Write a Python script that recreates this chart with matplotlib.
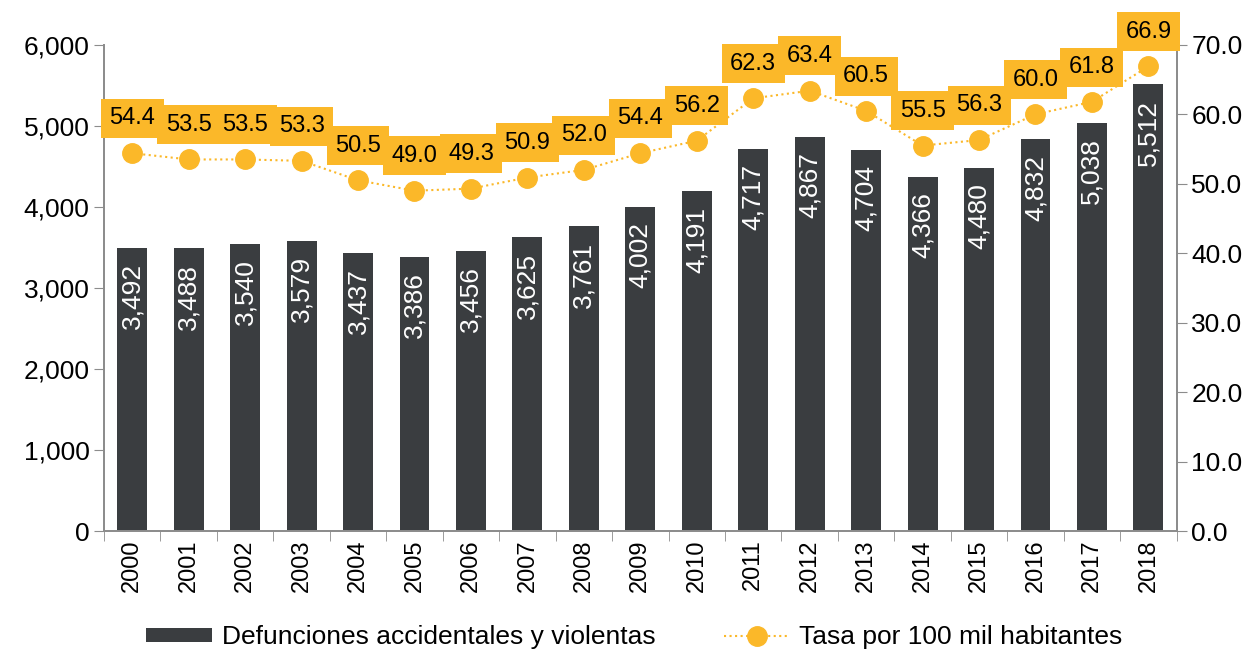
import matplotlib.pyplot as plt
from matplotlib.ticker import FuncFormatter

years = [str(y) for y in range(2000, 2019)]
deaths = [3492, 3488, 3540, 3579, 3437, 3386, 3456, 3625, 3761, 4002,
          4191, 4717, 4867, 4704, 4366, 4480, 4832, 5038, 5512]
rate = [54.4, 53.5, 53.5, 53.3, 50.5, 49.0, 49.3, 50.9, 52.0, 54.4,
        56.2, 62.3, 63.4, 60.5, 55.5, 56.3, 60.0, 61.8, 66.9]

BAR = "#3a3d40"
ORANGE = "#fbb829"
GRAY = "#8c8c8c"
FS = 17
BIG = 19


def main():
    plt.rcParams["font.family"] = ["Liberation Sans", "DejaVu Sans"]
    fig = plt.figure(figsize=(12.56, 6.5), dpi=100)
    ax = fig.add_axes([0.0828, 0.183, 0.854, 0.748])
    ax2 = ax.twinx()

    x = list(range(len(years)))
    bars = ax.bar(x, deaths, width=0.53, color=BAR,
                  label="Defunciones accidentales y violentas", zorder=2)
    for b, v in zip(bars, deaths):
        ax.annotate(f"{v:,}", (b.get_x() + b.get_width() / 2, v),
                    xytext=(0, -11), textcoords="offset points",
                    ha="center", va="top", rotation=90,
                    color="white", fontsize=BIG)

    ax.set_xlim(-0.5, len(years) - 0.5)
    ax.set_ylim(0, 6000)
    ax.set_yticks(range(0, 6001, 1000))
    ax.yaxis.set_major_formatter(FuncFormatter(lambda v, _: f"{int(v):,}"))
    ax.set_xticks(x)
    ax.set_xticklabels(years, rotation=90, fontsize=FS)
    ax.set_xticks([i - 0.5 for i in range(len(years) + 1)], minor=True)
    ax.tick_params(axis="x", which="major", length=0, pad=6)
    ax.tick_params(axis="x", which="minor", length=7, color=GRAY)
    ax.tick_params(axis="y", labelsize=BIG, length=7, color=GRAY)

    ax2.plot(x, rate, linestyle=":", color=ORANGE, linewidth=1.5,
             marker="o", markersize=14, label="Tasa por 100 mil habitantes",
             zorder=3)
    for i, v in enumerate(rate):
        ax2.annotate(f"{v:.1f}", (i, v), xytext=(0, 25),
                     textcoords="offset points", ha="center", va="center",
                     fontsize=FS, color="black",
                     bbox=dict(boxstyle="square,pad=0.36", fc=ORANGE,
                               ec="none"))
    ax2.set_ylim(0, 70)
    ax2.set_yticks(range(0, 71, 10))
    ax2.yaxis.set_major_formatter(FuncFormatter(lambda v, _: f"{v:.1f}"))
    ax2.tick_params(axis="y", labelsize=BIG, length=7, color=GRAY)

    for a in (ax, ax2):
        a.spines["top"].set_visible(False)
        for s in ("left", "right", "bottom"):
            a.spines[s].set_color(GRAY)
            a.spines[s].set_linewidth(1.3)

    h1, l1 = ax.get_legend_handles_labels()
    h2, l2 = ax2.get_legend_handles_labels()
    fig.legend(h1 + h2, l1 + l2, loc="lower center",
               bbox_to_anchor=(0.505, -0.035), ncol=2, frameon=False,
               fontsize=BIG, columnspacing=2.6, handlelength=2.5,
               handleheight=0.45, handletextpad=0.35)

    fig.savefig("out.png", dpi=100)


if __name__ == "__main__":
    main()
